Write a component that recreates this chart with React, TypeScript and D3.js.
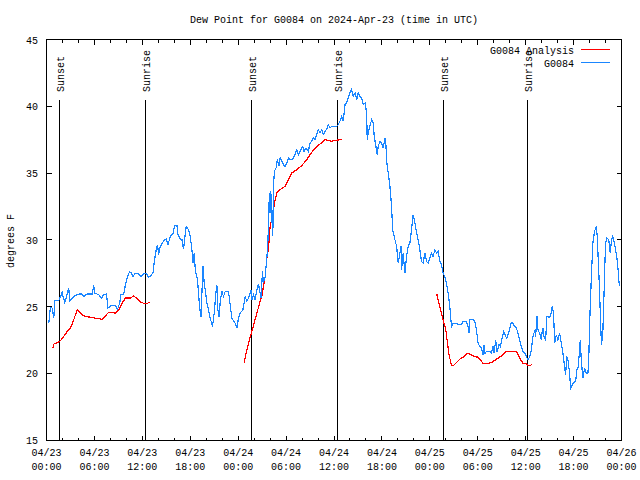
import React from 'react';
import * as d3 from 'd3';

// Time is given in hours after 2024-04-23 00:00 UTC
const START = Date.UTC(2024, 3, 23, 0, 0);

const obsHours = [
  0.29, 0.5, 0.71, 0.91, 1.04, 1.54, 1.75, 1.96, 2.09, 2.29, 2.5, 2.79, 2.91, 3.21, 3.41, 4.04, 4.46, 4.66, 5.09, 5.71,
  5.91, 6.04, 6.54, 6.88, 7.16, 7.5, 7.71, 8.0, 8.63, 8.91, 9.16, 9.34, 9.66, 9.88, 10.16, 10.38, 10.59, 10.84, 11.04, 11.54,
  11.84, 12.16, 12.5, 12.79, 13.09, 13.34, 13.5, 13.75, 13.91, 14.04, 14.25, 14.5, 14.75, 15.0, 15.21, 15.5, 15.84, 16.04, 16.34, 16.46,
  16.75, 16.96, 17.16, 17.38, 17.5, 17.79, 18.0, 18.21, 18.34, 18.5, 18.63, 18.91, 19.16, 19.34, 19.46, 19.59, 19.75, 19.88, 20.09, 20.29,
  20.5, 20.79, 21.0, 21.21, 21.34, 21.46, 21.63, 21.75, 21.96, 22.16, 22.38, 22.79, 23.0, 23.21, 23.63, 23.84, 24.04, 24.25, 24.59, 24.88,
  25.09, 25.29, 25.5, 25.59, 25.71, 25.91, 26.13, 26.34, 26.54, 26.75, 26.88, 27.04, 27.16, 27.38, 27.59, 27.71, 27.91, 28.0, 28.09, 28.21,
  28.34, 28.41, 28.54, 28.75, 28.91, 29.09, 29.25, 29.46, 29.66, 29.88, 30.09, 30.29, 30.5, 30.84, 31.13, 31.34, 31.54, 31.75, 32.09, 32.25,
  32.5, 32.79, 33.0, 33.21, 33.41, 33.63, 33.84, 34.04, 34.25, 34.46, 34.66, 34.88, 35.09, 35.29, 35.5, 35.71, 36.13, 36.34, 36.54, 36.75,
  36.96, 37.16, 37.38, 37.59, 37.79, 38.0, 38.21, 38.41, 38.63, 38.84, 39.04, 39.25, 39.46, 39.66, 39.88, 40.09, 40.16, 40.29, 40.5, 40.71,
  40.91, 41.04, 41.25, 41.41, 41.54, 41.75, 41.96, 42.16, 42.38, 42.5, 42.59, 42.79, 43.0, 43.21, 43.34, 43.5, 43.63, 43.84, 44.04, 44.25,
  44.38, 44.46, 44.66, 44.88, 45.09, 45.29, 45.5, 45.71, 45.91, 46.13, 46.34, 46.54, 46.75, 46.96, 47.16, 47.38, 47.59, 47.79, 48.0, 48.21,
  48.41, 48.63, 48.84, 49.04, 49.25, 49.46, 49.66, 49.88, 50.09, 50.29, 50.5, 50.71, 50.91, 51.34, 51.54, 51.96, 52.16, 52.59, 52.79, 52.91,
  53.0, 53.41, 53.63, 53.84, 54.04, 54.25, 54.46, 54.66, 54.79, 54.91, 55.09, 55.5, 55.71, 55.91, 56.04, 56.25, 56.41, 56.66, 56.84, 57.09,
  57.25, 57.5, 57.66, 57.91, 58.21, 58.41, 58.63, 58.84, 59.04, 59.25, 59.46, 59.66, 59.88, 60.09, 60.29, 60.5, 60.71, 60.91, 61.04, 61.16,
  61.25, 61.41, 61.54, 61.75, 61.96, 62.09, 62.16, 62.29, 62.5, 62.66, 63.0, 63.21, 63.34, 63.5, 63.63, 63.84, 64.04, 64.25, 64.46, 64.66,
  64.88, 65.0, 65.16, 65.29, 65.5, 65.63, 65.84, 66.0, 66.25, 66.41, 66.59, 66.75, 66.84, 66.96, 67.16, 67.38, 67.59, 67.79, 67.91, 68.0,
  68.13, 68.25, 68.41, 68.63, 68.84, 68.96, 69.09, 69.25, 69.38, 69.5, 69.66, 69.79, 69.91, 70.0, 70.16, 70.41, 70.59, 70.75, 70.91, 71.13,
  71.25, 71.41, 71.54, 71.66, 71.75,
];

const obsDew = [
  23.75, 25.0, 24.88, 24.13, 25.45, 25.45, 25.75, 26.05, 25.7, 25.3, 25.75, 26.38, 25.45, 25.63, 25.75, 25.93, 25.93, 25.75, 25.93, 25.93,
  26.57, 26.0, 25.88, 25.63, 25.88, 25.93, 24.88, 25.05, 25.05, 24.8, 25.25, 25.93, 25.88, 26.63, 27.25, 27.58, 27.55, 27.25, 27.45, 27.45,
  27.25, 27.45, 27.45, 27.2, 27.3, 27.55, 28.38, 29.3, 29.63, 28.88, 29.5, 29.75, 29.95, 30.08, 29.63, 30.25, 30.45, 31.08, 31.08, 30.38,
  30.05, 30.0, 29.3, 30.5, 31.0, 30.75, 30.25, 29.25, 28.25, 29.0, 27.75, 27.0, 25.0, 24.25, 26.0, 28.0, 26.75, 26.25, 25.25, 24.75,
  24.13, 23.5, 24.5, 26.0, 26.57, 24.75, 24.2, 25.38, 26.13, 25.75, 26.13, 26.13, 25.13, 24.13, 23.75, 23.38, 24.13, 24.5, 24.75, 25.75,
  25.38, 25.63, 26.0, 26.25, 25.5, 25.88, 25.5, 26.25, 26.7, 26.0, 25.63, 27.63, 26.75, 27.25, 28.63, 29.63, 33.5, 32.0, 33.63, 31.75,
  30.25, 34.0, 35.13, 35.38, 36.05, 35.5, 36.13, 35.88, 35.63, 35.5, 35.75, 36.13, 36.0, 36.05, 36.38, 36.75, 36.38, 36.63, 37.0, 36.63,
  36.88, 36.63, 37.25, 37.38, 37.63, 37.5, 37.88, 38.25, 38.0, 38.25, 37.88, 38.13, 38.3, 38.63, 38.38, 38.5, 38.5, 38.5, 38.63, 38.88,
  39.25, 38.88, 40.13, 40.25, 40.63, 41.0, 41.25, 40.75, 41.0, 40.5, 41.0, 40.75, 40.63, 40.13, 40.25, 39.5, 37.5, 38.0, 38.5, 39.0,
  38.75, 37.75, 37.0, 36.38, 37.0, 37.38, 37.25, 36.88, 37.63, 37.13, 35.88, 35.0, 34.0, 32.5, 30.75, 30.38, 30.0, 29.5, 28.25, 29.0,
  29.5, 27.75, 29.0, 27.5, 28.75, 29.5, 29.75, 30.75, 31.88, 31.25, 30.5, 30.0, 29.25, 28.38, 28.25, 29.0, 28.38, 28.25, 28.63, 29.0,
  28.75, 29.25, 29.0, 29.13, 28.38, 28.13, 27.5, 27.25, 26.75, 26.0, 25.0, 23.5, 23.75, 23.75, 23.63, 23.63, 23.88, 23.88, 23.5, 23.0,
  24.0, 24.05, 23.88, 23.25, 22.25, 22.0, 21.88, 21.38, 22.13, 21.5, 21.63, 21.63, 21.5, 22.0, 21.5, 22.5, 21.63, 22.13, 22.0, 22.75,
  23.13, 22.75, 22.63, 23.13, 23.8, 23.75, 23.5, 23.38, 23.0, 22.5, 22.0, 21.63, 21.5, 21.25, 21.0, 21.25, 21.75, 22.75, 23.0, 23.25,
  22.75, 24.25, 23.25, 23.0, 22.5, 23.25, 23.38, 22.75, 22.5, 24.25, 24.2, 24.5, 25.05, 24.38, 22.25, 22.88, 22.5, 23.0, 22.25, 21.5,
  20.5, 19.88, 21.25, 21.0, 20.0, 18.88, 19.13, 19.3, 19.38, 20.25, 20.5, 21.75, 22.5, 21.0, 19.63, 20.38, 20.0, 19.95, 21.25, 23.5,
  25.75, 27.5, 29.75, 30.63, 31.0, 30.25, 28.5, 26.25, 23.75, 22.13, 23.0, 25.5, 28.0, 29.75, 30.13, 30.0, 29.0, 30.0, 30.25, 29.75,
  29.25, 28.75, 28.0, 27.0, 26.5,
];

// Analysis series: NaN marks a gap between daily runs
const anaHours = [
  0.79, 0.91, 1.34, 1.75, 2.16, 2.59, 3.0, 3.41, 3.84, 4.04, 4.46, 4.88, 5.5, 6.13, 6.54, 6.96, 7.38, 7.79, 8.21, 8.63,
  9.04, 9.46, 9.88, 10.5, 10.91, 11.34, 11.75, 12.38, 12.91, NaN,
  24.75, 25.09, 25.41, 25.71, 26.0, 26.34, 26.75, 26.96, 27.16, 27.38, 27.59, 27.79, 28.0, 28.21, 28.41, 28.63, 28.84, 29.25, 29.88, 30.29,
  30.71, 31.34, 31.96, 32.59, 33.21, 33.84, 34.46, 34.88, 35.29, 35.71, 36.13, 36.96, NaN,
  48.71, 48.91, 49.04, 49.25, 49.46, 49.66, 50.0, 50.21, 50.41, 50.71, 50.91, 51.34, 51.75, 52.16, 52.66, 53.21, 53.63, 54.04, 54.66, 55.29,
  55.71, 56.34, 56.96, 57.59, 58.84, 59.25, 59.66, 60.09, 60.29, 60.5, 60.84,
];

const anaDew = [
  21.88, 22.18, 22.3, 22.43, 22.75, 23.13, 23.38, 24.0, 24.75, 24.63, 24.38, 24.25, 24.2, 24.13, 24.13, 24.0, 24.3, 24.58, 24.58, 24.5,
  24.75, 25.25, 25.63, 25.63, 25.8, 25.58, 25.33, 25.2, 25.3, NaN,
  20.8, 21.75, 22.5, 23.13, 23.75, 24.5, 25.38, 25.75, 26.5, 27.25, 28.63, 29.25, 31.0, 31.5, 32.25, 33.0, 33.5, 33.75, 34.0, 34.5,
  35.0, 35.25, 35.55, 36.0, 36.55, 37.0, 37.25, 37.5, 37.45, 37.38, 37.45, 37.5, NaN,
  25.75, 25.88, 25.5, 25.0, 24.5, 24.0, 23.25, 22.25, 21.38, 20.58, 20.55, 20.8, 21.05, 21.2, 21.5, 21.38, 21.25, 21.2, 20.75, 20.75,
  20.8, 21.05, 21.3, 21.63, 21.63, 21.13, 20.75, 20.7, 20.58, 20.58, 20.65,
];

const sunHours = [1.69, 12.44, 25.67, 36.42, 49.67, 60.29];
const sunLabels = ['Sunset', 'Sunrise', 'Sunset', 'Sunrise', 'Sunset', 'Sunrise'];

const yTicks = [15, 20, 25, 30, 35, 40, 45];
const majorTickHours = [0, 6, 12, 18, 24, 30, 36, 42, 48, 54, 60, 66, 72];
const minorTickHours = d3.range(0, 73, 2);

const titleText = 'Dew Point for G0084 on 2024-Apr-23 (time in UTC)';
const yLabel = 'degrees F';
const seriesNames = ['G0084 Analysis', 'G0084'];
const seriesColors = ['#ff0000', '#1a86ff'];

const FONT = "'Liberation Mono', 'DejaVu Sans Mono', monospace";

const toDate = (h: number) => new Date(START + h * 3600e3);

export default function App() {
  const W = 640;
  const H = 480;
  const L = 46.5, R = 621.5, T = 39.5, B = 440.5;

  const x = d3.scaleUtc().domain([toDate(0), toDate(72)]).range([L, R]);
  const y = d3.scaleLinear().domain([15, 45]).range([B - 0.5, T]);

  const fmtDate = d3.utcFormat('%m/%d');
  const fmtTime = d3.utcFormat('%H:%M');

  type P = { h: number; v: number };
  const obs: P[] = obsHours.map((h, i) => ({ h, v: obsDew[i] }));
  const ana: P[] = anaHours.map((h, i) => ({ h, v: anaDew[i] }));

  const line = d3
    .line<P>()
    .defined((d) => !isNaN(d.h) && !isNaN(d.v))
    .x((d) => x(toDate(d.h)))
    .y((d) => y(d.v));

  const snap = (v: number) => Math.round(v - 0.5) + 0.5;
  const sunTop = y(15) - (y(15) - y(45)) * 0.85;

  return (
    <svg
      width={W}
      height={H}
      style={{ position: 'absolute', left: 0, top: 0, background: '#fff' }}
      fontFamily={FONT}
      fontSize={10}
    >
      <rect x={0} y={0} width={W} height={H} fill="#fff" />
      <text x={334} y={23} textAnchor="middle" fill="#000">
        {titleText}
      </text>

      {/* sunrise / sunset markers */}
      {sunHours.map((h, i) => {
        const sx = snap(x(toDate(h)));
        return (
          <g key={'sun' + i}>
            <line x1={sx} x2={sx} y1={B} y2={sunTop} stroke="#000" strokeWidth={1} shapeRendering="crispEdges" />
            <text x={sx + 4} y={92} transform={`rotate(-90 ${sx + 4} 92)`} fill="#000">
              {sunLabels[i]}
            </text>
          </g>
        );
      })}

      {/* series */}
      <path d={line(ana) || ''} fill="none" stroke={seriesColors[0]} strokeWidth={1.2} shapeRendering="crispEdges" />
      <path d={line(obs) || ''} fill="none" stroke={seriesColors[1]} strokeWidth={1.2} shapeRendering="crispEdges" />

      {/* ticks */}
      <g stroke="#000" strokeWidth={1} shapeRendering="crispEdges">
        {minorTickHours.map((h) => {
          const tx = snap(x(toDate(h)));
          const len = h % 6 === 0 ? 5 : 3;
          return (
            <g key={'xt' + h}>
              <line x1={tx} x2={tx} y1={B} y2={B - len} />
              <line x1={tx} x2={tx} y1={T} y2={T + len} />
            </g>
          );
        })}
        {yTicks.map((v) => {
          const ty = snap(y(v));
          return (
            <g key={'yt' + v}>
              <line x1={L} x2={L + 5} y1={ty} y2={ty} />
              <line x1={R} x2={R - 5} y1={ty} y2={ty} />
            </g>
          );
        })}
        <rect x={L} y={T} width={R - L} height={B - T} fill="none" />
      </g>

      {/* y tick labels */}
      {yTicks.map((v) => (
        <text key={'yl' + v} x={38} y={y(v) + 4} textAnchor="end" fill="#000">
          {v}
        </text>
      ))}

      {/* x tick labels */}
      {majorTickHours.map((h) => {
        const d = toDate(h);
        const tx = x(d);
        return (
          <g key={'xl' + h}>
            <text x={tx} y={456} textAnchor="middle" fill="#000">
              {fmtDate(d)}
            </text>
            <text x={tx} y={470} textAnchor="middle" fill="#000">
              {fmtTime(d)}
            </text>
          </g>
        );
      })}

      {/* y axis title */}
      <text x={14} y={241} transform="rotate(-90 14 241)" textAnchor="middle" fill="#000">
        {yLabel}
      </text>

      {/* legend */}
      {seriesNames.map((name, i) => {
        const ly = 49.5 + i * 13;
        return (
          <g key={'lg' + i}>
            <text x={574} y={ly + 4} textAnchor="end" fill="#000">
              {name}
            </text>
            <line x1={581} x2={610} y1={ly} y2={ly} stroke={seriesColors[i]} strokeWidth={1} shapeRendering="crispEdges" />
          </g>
        );
      })}
    </svg>
  );
}
